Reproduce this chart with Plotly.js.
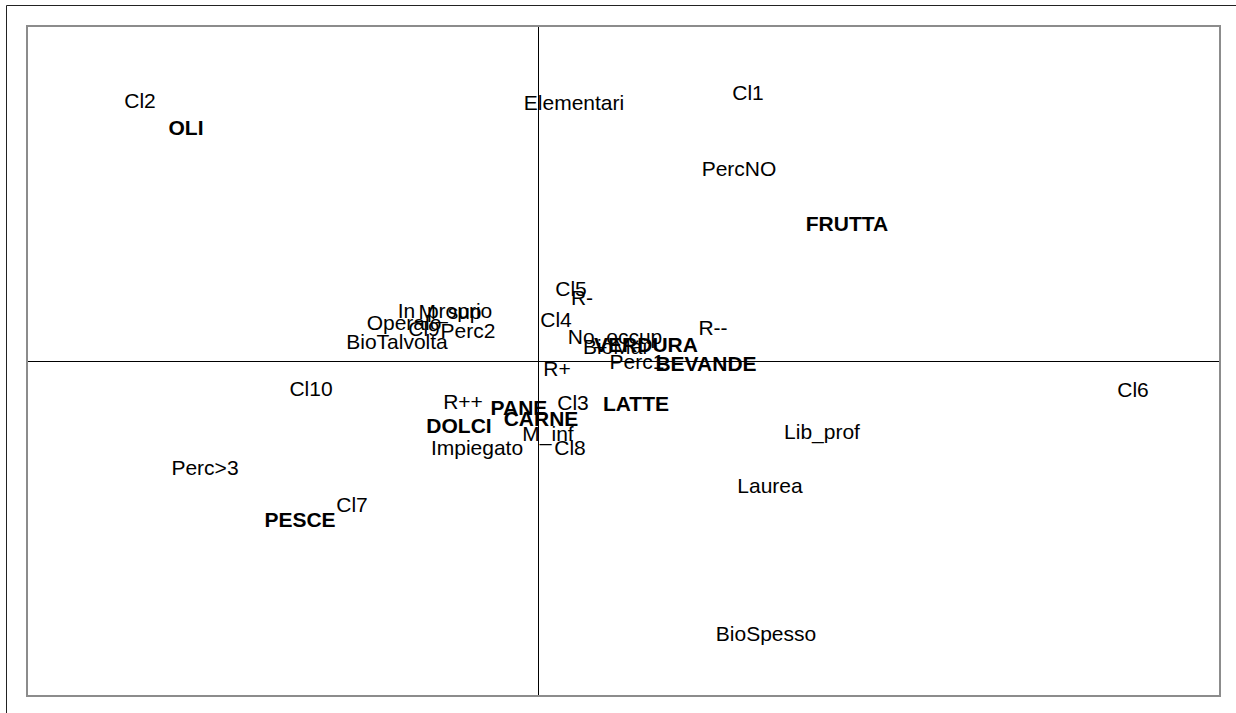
<!DOCTYPE html>
<html>
<head>
<meta charset="utf-8">
<script src="https://cdn.plot.ly/plotly-3.0.1.min.js"></script>
<style>
html,body{margin:0;padding:0;background:#fff;}
#chart{width:1236px;height:713px;}
</style>
</head>
<body>
<div id="chart"></div>
<script>
// Modalities (supplementary / active categories) - normal text
var modLabels = ["Cl2","Elementari","Cl1","PercNO","Cl5","R-","Cl4","No_occup","BioMai","Perc1","R--","R+",
  "In_proprio","M_sup","Operaio","Cl9","Perc2","BioTalvolta","Cl10","Cl6","R++","Cl3","M_inf","Impiegato",
  "Cl8","Lib_prof","Perc>3","Laurea","Cl7","BioSpesso"];
var modX = [-0.796,0.072,0.420,0.402,0.066,0.088,0.036,0.154,0.154,0.198,0.350,0.038,
  -0.186,-0.176,-0.268,-0.228,-0.140,-0.282,-0.454,1.190,-0.150,0.070,0.020,-0.122,
  0.064,0.568,-0.666,0.464,-0.372,0.456];
var modY = [0.516,0.512,0.532,0.380,0.140,0.122,0.078,0.044,0.024,-0.006,0.062,-0.020,
  0.096,0.094,0.072,0.060,0.056,0.034,-0.060,-0.062,-0.086,-0.088,-0.150,-0.178,
  -0.178,-0.146,-0.218,-0.254,-0.292,-0.550];

// Food groups - bold text
var foodLabels = ["OLI","FRUTTA","VERDURA","BEVANDE","PANE","LATTE","CARNE","DOLCI","PESCE"];
var foodX = [-0.704,0.618,0.216,0.336,-0.038,0.196,0.006,-0.158,-0.476];
var foodY = [0.462,0.270,0.028,-0.010,-0.098,-0.090,-0.120,-0.134,-0.322];

var xRange = [-1.02, 1.362];
var yRange = [-0.668, 0.668];

var fontFam = "Liberation Sans, Arial, Helvetica, sans-serif";

var traces = [
  {
    type: "scatter", mode: "text",
    x: modX, y: modY, text: modLabels,
    textposition: "middle center",
    textfont: {family: fontFam, size: 21, color: "#000"},
    hoverinfo: "none", cliponaxis: false, showlegend: false
  },
  {
    type: "scatter", mode: "text",
    x: foodX, y: foodY, text: foodLabels,
    textposition: "middle center",
    textfont: {family: fontFam, size: 21, color: "#000", weight: "bold"},
    hoverinfo: "none", cliponaxis: false, showlegend: false
  }
];

var axisCommon = {
  showgrid: false, showticklabels: false, ticks: "",
  zeroline: true, zerolinecolor: "#000", zerolinewidth: 1,
  showline: true, mirror: true, linecolor: "#8c8c8c", linewidth: 2,
  fixedrange: true
};

var layout = {
  width: 1236, height: 713,
  margin: {l: 28, r: 17, t: 27, b: 18, pad: 0},
  paper_bgcolor: "#fff", plot_bgcolor: "#fff",
  xaxis: Object.assign({range: xRange}, axisCommon),
  yaxis: Object.assign({range: yRange}, axisCommon),
  shapes: [
    {type: "line", xref: "paper", yref: "paper", x0: -21.5/1191, x1: 1.2, y0: 1 + 21.5/668, y1: 1 + 21.5/668,
     line: {color: "#222", width: 1}},
    {type: "line", xref: "paper", yref: "paper", x0: -21.5/1191, x1: -21.5/1191, y0: -0.2, y1: 1 + 21.5/668,
     line: {color: "#222", width: 1}}
  ],
  showlegend: false
};

Plotly.newPlot("chart", traces, layout, {displayModeBar: false, staticPlot: true});
</script>
</body>
</html>
